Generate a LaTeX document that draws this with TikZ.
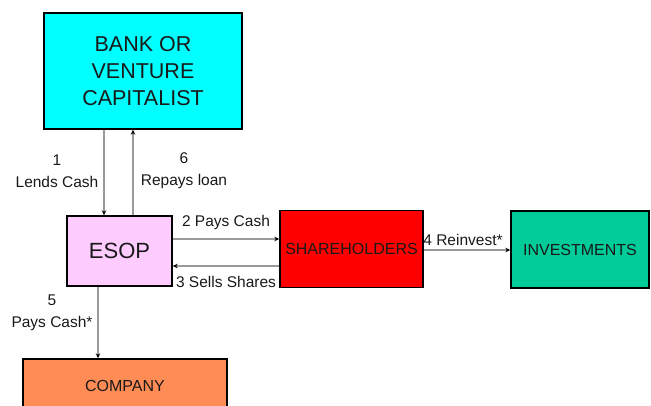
\documentclass[tikz,border=0pt]{standalone}
\usepackage{fontspec}
\setmainfont{Liberation Sans}
\usetikzlibrary{arrows.meta}
\definecolor{bankc}{HTML}{00FFFF}
\definecolor{esopc}{HTML}{FFCCFF}
\definecolor{shc}{HTML}{FF0000}
\definecolor{invc}{HTML}{00CC99}
\definecolor{compc}{HTML}{FF8C55}
\definecolor{linec}{HTML}{9A9A9A}
\tikzset{
  box/.style={draw=black, line width=1.4pt, inner sep=0pt, align=center, text=black!90},
  arr/.style={draw=linec, line width=1.1pt, -{Stealth[length=5pt,width=4.5pt,black]}},
  lbl/.style={font=\fontsize{15.5}{22}\selectfont, text=black!90, align=center, inner sep=0pt},
}
\begin{document}
\begin{tikzpicture}[x=1pt,y=-1pt]
\useasboundingbox (0,0) rectangle (651,406);
\clip (0,0) rectangle (651,406);
\node[box, fill=bankc, minimum width=198pt, minimum height=116pt, font=\fontsize{21.5}{27}\selectfont] (bank) at (143,71) {BANK OR\\VENTURE\\CAPITALIST};
\node[box, fill=esopc, minimum width=105pt, minimum height=70pt, font=\fontsize{22}{26}\selectfont] (esop) at (119.5,251) {ESOP};
\node[box, fill=shc, minimum width=143pt, minimum height=77pt, font=\fontsize{16}{18}\selectfont] (sh) at (351.5,249) {SHAREHOLDERS};
\node[box, fill=invc, minimum width=138pt, minimum height=77pt, font=\fontsize{16}{18}\selectfont] (inv) at (580,249.5) {INVESTMENTS};
\node[box, fill=compc, minimum width=204pt, minimum height=54pt, font=\fontsize{16}{18}\selectfont] (comp) at (125,386) {COMPANY};

\draw[arr] (bank.south -| 104,0) -- (esop.north -| 104,0);
\draw[arr] (esop.north -| 133,0) -- (bank.south -| 133,0);
\draw[arr] (esop.east |- 0,239) -- (sh.west |- 0,239);
\draw[arr] (sh.west |- 0,266) -- (esop.east |- 0,266);
\draw[arr] (sh.east |- 0,250) -- (inv.west |- 0,250);
\draw[arr] (esop.south -| 98,0) -- (comp.north -| 98,0);

\node[lbl] (l1) at (57,171) {1\\Lends Cash};
\node[lbl] (l6) at (184,171) {6\\Repays loan};
\node[lbl] (l2) at (226,222) {2 Pays Cash};
\node[lbl] (l3) at (226,282) {3 Sells Shares};
\node[lbl] (l4) at (463,240) {4 Reinvest*};
\node[lbl] (l5) at (52,313) {5\\Pays Cash*};
\end{tikzpicture}
\end{document}
